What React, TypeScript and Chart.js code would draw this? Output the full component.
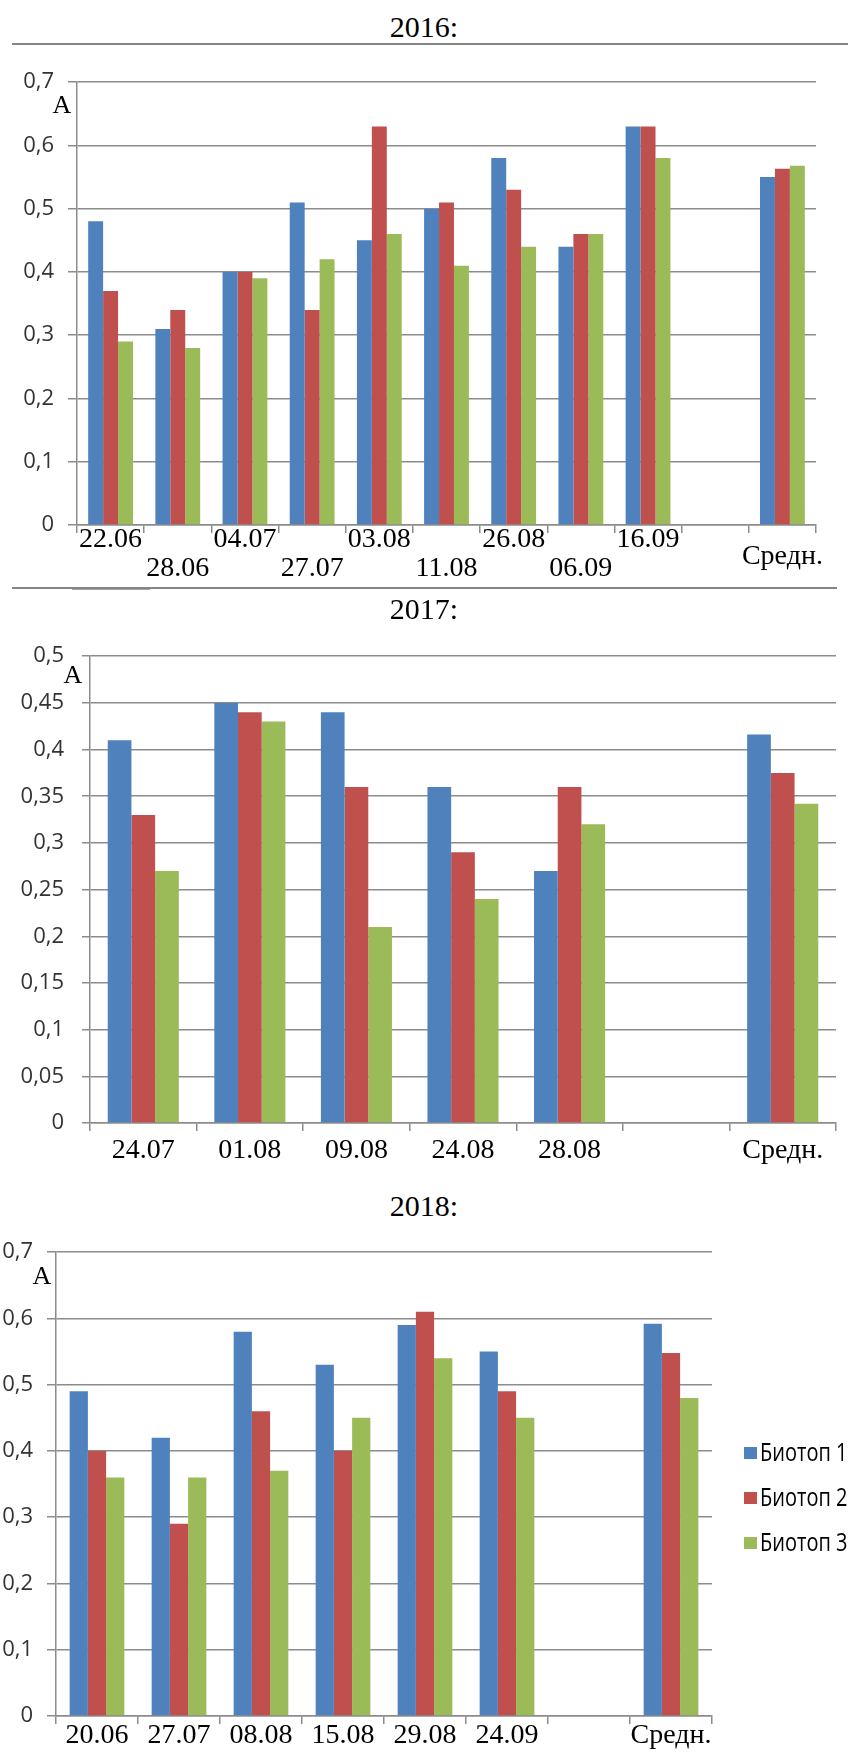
import React, { useEffect, useRef } from 'react';
import { Chart, registerables } from 'chart.js';

Chart.register(...registerables);

// Series shared by all three years
const SERIES_NAMES = ['Биотоп 1', 'Биотоп 2', 'Биотоп 3'];
const SERIES_COLORS = ['#4F81BD', '#C0504D', '#9BBB59'];

// 2016
const dates2016 = ['22.06', '28.06', '04.07', '27.07', '03.08', '11.08', '26.08', '06.09', '16.09', '', 'Средн.'];
const biotop1_2016 = [0.48, 0.31, 0.40, 0.51, 0.45, 0.50, 0.58, 0.44, 0.63, null, 0.55];
const biotop2_2016 = [0.37, 0.34, 0.40, 0.34, 0.63, 0.51, 0.53, 0.46, 0.63, null, 0.563];
const biotop3_2016 = [0.29, 0.28, 0.39, 0.42, 0.46, 0.41, 0.44, 0.46, 0.58, null, 0.568];
const yTicks2016 = [0, 0.1, 0.2, 0.3, 0.4, 0.5, 0.6, 0.7];

// 2017
const dates2017 = ['24.07', '01.08', '09.08', '24.08', '28.08', '', 'Средн.'];
const biotop1_2017 = [0.41, 0.45, 0.44, 0.36, 0.27, null, 0.416];
const biotop2_2017 = [0.33, 0.44, 0.36, 0.29, 0.36, null, 0.375];
const biotop3_2017 = [0.27, 0.43, 0.21, 0.24, 0.32, null, 0.342];
const yTicks2017 = [0, 0.05, 0.1, 0.15, 0.2, 0.25, 0.3, 0.35, 0.4, 0.45, 0.5];

// 2018
const dates2018 = ['20.06', '27.07', '08.08', '15.08', '29.08', '24.09', '', 'Средн.'];
const biotop1_2018 = [0.49, 0.42, 0.58, 0.53, 0.59, 0.55, null, 0.592];
const biotop2_2018 = [0.40, 0.29, 0.46, 0.40, 0.61, 0.49, null, 0.548];
const biotop3_2018 = [0.36, 0.36, 0.37, 0.45, 0.54, 0.45, null, 0.48];
const yTicks2018 = [0, 0.1, 0.2, 0.3, 0.4, 0.5, 0.6, 0.7];

const PAGE_W = 848;
const SERIF = "'Liberation Serif', 'Times New Roman', serif";
const SANS = "'Open Sans', 'Noto Sans', sans-serif";
const GRID = '#8c8c8c';

const fmt = (v: number) => String(parseFloat(v.toFixed(2))).replace('.', ',');

// Legend drawn to the right of the plot: coloured square + condensed label per dataset
const sideLegend = {
  id: 'sideLegend',
  afterDraw(chart: any, _args: any, opts: any) {
    if (!opts || !opts.rows) return;
    const ctx = chart.ctx as CanvasRenderingContext2D;
    chart.data.datasets.forEach((ds: any, i: number) => {
      const y = opts.rows[i];
      ctx.save();
      ctx.fillStyle = ds.backgroundColor;
      ctx.fillRect(opts.x, y - 6, 13, 12);
      ctx.translate(opts.x + 16, y);
      ctx.scale(0.8, 1);
      ctx.font = `25px ${SANS}`;
      ctx.fillStyle = '#000';
      ctx.textAlign = 'left';
      ctx.textBaseline = 'middle';
      ctx.fillText(ds.label, 0, 1);
      ctx.restore();
    });
  },
};

type Area = { left: number; right: number; top: number; bottom: number };

type PanelProps = {
  top: number;
  height: number;
  area: Area;
  labels: string[];
  values: (number | null)[][];
  yTicks: number[];
  yPad: number;
  yTickLen: number;
  xPad: number;
  twoRows?: boolean;
  legend?: { x: number; rows: number[] };
};

function BarPanel({ top, height, area, labels, values, yTicks, yPad, yTickLen, xPad, twoRows, legend }: PanelProps) {
  const ref = useRef<HTMLCanvasElement | null>(null);

  useEffect(() => {
    if (!ref.current) return;
    const last = labels.length - 1;
    const chart = new Chart(ref.current, {
      type: 'bar',
      data: {
        labels,
        datasets: values.map((data, i) => ({
          label: SERIES_NAMES[i],
          data,
          backgroundColor: SERIES_COLORS[i],
          borderWidth: 0,
          categoryPercentage: 0.667,
          barPercentage: 1,
        })),
      },
      plugins: legend ? [sideLegend] : [],
      options: {
        responsive: false,
        animation: false,
        layout: {
          padding: { top: area.top - top, right: PAGE_W - area.right, left: 0, bottom: 0 },
        },
        plugins: {
          legend: { display: false },
          tooltip: { enabled: false },
          sideLegend: legend ? { x: legend.x, rows: legend.rows.map((r) => r - top) } : {},
        },
        scales: {
          x: {
            grid: {
              display: true,
              drawOnChartArea: false,
              drawTicks: true,
              tickLength: 8,
              color: GRID,
              lineWidth: 1.5,
              offset: true,
            },
            border: { color: GRID, width: 1.5 },
            ticks: {
              autoSkip: false,
              maxRotation: 0,
              minRotation: 0,
              padding: xPad,
              color: '#000',
              font: (ctx: any) =>
                twoRows && ctx.index === last
                  ? { family: SERIF, size: 28, lineHeight: 0.75 }
                  : { family: SERIF, size: 28, lineHeight: 29 / 28 },
              callback: (_v: any, index: number) => {
                const lab = labels[index];
                if (!twoRows) return lab;
                if (index === last) return ['', lab];
                return index % 2 ? ['', lab] : lab;
              },
            },
            afterFit: (s: any) => {
              s.height = top + height - area.bottom;
            },
          },
          y: {
            min: 0,
            max: yTicks[yTicks.length - 1],
            afterBuildTicks: (s: any) => {
              s.ticks = yTicks.map((v) => ({ value: v }));
            },
            grid: { color: GRID, lineWidth: 1.5, tickLength: yTickLen },
            border: { color: GRID, width: 1.5 },
            ticks: {
              padding: yPad,
              color: '#333',
              font: { family: SANS, size: 22 },
              callback: (v: any) => fmt(Number(v)),
            },
            afterFit: (s: any) => {
              s.width = area.left;
            },
          },
        },
      },
    } as any);
    return () => chart.destroy();
  }, []);

  return (
    <canvas
      ref={ref}
      width={PAGE_W}
      height={height}
      style={{ position: 'absolute', left: 0, top, width: PAGE_W, height }}
    />
  );
}

function Label({ x, y, text, size }: { x: number; y: number; text: string; size: number }) {
  return (
    <div
      style={{
        position: 'absolute',
        left: x,
        top: y,
        transform: 'translate(-50%, -50%)',
        fontFamily: SERIF,
        fontSize: size,
        lineHeight: 1,
        color: '#000',
        whiteSpace: 'nowrap',
      }}
    >
      {text}
    </div>
  );
}

function Rule({ x, y, w, h, color }: { x: number; y: number; w: number; h: number; color: string }) {
  return <div style={{ position: 'absolute', left: x, top: y, width: w, height: h, background: color }} />;
}

export default function App() {
  return (
    <div style={{ position: 'absolute', left: 0, top: 0, width: PAGE_W, height: 1753, background: '#fff', overflow: 'hidden' }}>
      <Label x={424} y={27} text="2016:" size={30} />
      <Rule x={12} y={43} w={836} h={2} color="#858585" />
      <BarPanel
        top={55}
        height={540}
        area={{ left: 77, right: 816, top: 72, bottom: 525 }}
        labels={dates2016}
        values={[biotop1_2016, biotop2_2016, biotop3_2016]}
        yTicks={yTicks2016}
        yPad={14}
        yTickLen={9}
        xPad={-7.5}
        twoRows
      />
      <Label x={62} y={105} text="А" size={26} />
      <Rule x={12} y={587} w={825} h={2} color="#858585" />
      <Rule x={72} y={589} w={78} h={1} color="#a5a5a5" />

      <Label x={424} y={609} text="2017:" size={30} />
      <BarPanel
        top={625}
        height={555}
        area={{ left: 90, right: 836, top: 650, bottom: 1123 }}
        labels={dates2017}
        values={[biotop1_2017, biotop2_2017, biotop3_2017]}
        yTicks={yTicks2017}
        yPad={18}
        yTickLen={8}
        xPad={5}
      />
      <Label x={73} y={675} text="А" size={26} />

      <Label x={424} y={1206} text="2018:" size={30} />
      <BarPanel
        top={1225}
        height={528}
        area={{ left: 56, right: 712, top: 1246, bottom: 1716 }}
        labels={dates2018}
        values={[biotop1_2018, biotop2_2018, biotop3_2018]}
        yTicks={yTicks2018}
        yPad={14}
        yTickLen={9}
        xPad={-3}
        legend={{ x: 744, rows: [1453, 1498, 1543] }}
      />
      <Label x={42} y={1276} text="А" size={26} />
    </div>
  );
}
